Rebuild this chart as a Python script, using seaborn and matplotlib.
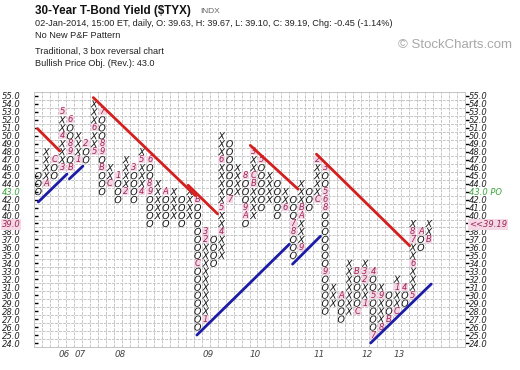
import numpy as np
import pandas as pd
import matplotlib
matplotlib.use("Agg")
import matplotlib.pyplot as plt
from matplotlib.patches import Rectangle
import seaborn as sns

# ---------------- data ----------------
col_kind = ["O", "X", "O", "X", "O", "X", "O", "X", "O", "X",
            "O", "X", "O", "X", "O", "X", "O", "X", "O", "X",
            "O", "X", "O", "X", "O", "X", "O", "X", "O", "X",
            "O", "X", "O", "X", "O", "X", "O", "X", "O", "X",
            "O", "X", "O", "X", "O", "X", "O", "X", "O", "X"]
col_low = [43, 44, 45, 46, 46, 47, 47, 48, 43, 44, 42, 43, 42, 43, 39, 40, 39, 40, 39, 40,
           26, 27, 34, 35, 42, 43, 39, 40, 41, 42, 40, 41, 35, 36, 41, 42, 28, 29, 27, 28,
           28, 29, 25, 26, 27, 28, 29, 30, 36, 37]
col_high = [45, 48, 47, 53, 52, 50, 49, 54, 53, 46, 45, 47, 46, 48, 47, 44, 43, 43, 42, 43,
            42, 38, 37, 50, 49, 46, 45, 48, 47, 45, 44, 43, 42, 44, 43, 47, 46, 31, 30, 34,
            33, 34, 33, 31, 30, 32, 31, 39, 38, 39]

month_col = [1, 2, 3, 3, 3, 4, 4, 4, 4, 5, 6, 7, 7, 8, 8, 8, 8, 9, 10, 11,
             12, 13, 13, 14, 14, 14, 16, 20, 20, 21, 21, 21, 23, 23, 23, 24, 26, 26, 26,
             27, 27, 27, 28, 31, 32, 32, 33, 33, 33, 35, 35, 36, 36, 36, 36, 36,
             38, 40, 40, 41, 41, 41, 42, 42, 42, 43, 43, 44, 45, 45, 46,
             47, 47, 47, 47, 48, 49]
month_val = [44, 47, 46, 50, 53, 52, 49, 48, 46, 47, 49, 48, 51, 53, 49, 48, 46, 44, 45, 43,
             46, 43, 47, 47, 44, 43, 43, 42, 34, 27, 37, 38, 38, 41, 47, 42, 45, 41, 40,
             44, 45, 48, 47, 41, 39, 38, 36, 40, 41, 42, 47, 46, 43, 42, 41, 33,
             30, 33, 28, 29, 32, 33, 33, 30, 25, 26, 30, 27, 28, 31, 31,
             30, 34, 37, 38, 38, 37]
month_chr = ["A", "C", "3", "4", "5", "6", "8", "9", "B", "1", "2", "5", "6", "7", "8", "9", "B", "C", "1", "2",
             "3", "4", "5", "6", "8", "9", "A", "B", "C", "1", "2", "3", "4", "5", "6", "7", "8", "9", "A",
             "B", "C", "3", "5", "6", "7", "8", "9", "A", "B", "C", "2", "3", "5", "6", "8", "9",
             "A", "B", "C", "1", "2", "3", "4", "5", "7", "8", "9", "B", "C", "1", "4",
             "5", "6", "7", "8", "A", "B"]

# trend lines (column index / price level endpoints)
red_x0 = [-0.1, 6.9, 18.8, 26.6, 34.9]
red_y0 = [50.9, 54.8, 43.8, 48.8, 47.7]
red_x1 = [2.7, 19.7, 22.5, 32.6, 46.6]
red_y1 = [48.1, 42.5, 40.2, 43.3, 36.2]
blue_x0 = [0.0, 3.9, 19.9, 31.9, 41.7]
blue_y0 = [41.7, 44.6, 25.0, 33.9, 24.0]
blue_x1 = [3.6, 5.6, 31.5, 35.4, 49.3]
blue_y1 = [45.2, 46.2, 36.4, 37.4, 31.4]

year_lbls = ["06", "07", "08", "09", "10", "11", "12", "13"]
year_cols = [3, 5, 10, 21, 27, 35, 41, 45]

price_levels = list(range(24, 56))
bullish_po = 43.0
last_close = 39.19

# ---------------- style ----------------
sns.set_theme(style="white")
plt.rcParams["font.family"] = ["DejaVu Sans"]

W, H = 520, 370
fig = plt.figure(figsize=(W / 100, H / 100), dpi=100)
fig.patch.set_facecolor("white")
L, R, T, B = 34.3, 464.7, 92.0, 347.0
ax = fig.add_axes([L / W, 1 - B / H, (R - L) / W, (B - T) / H])

RED = "#d41f1f"
BLUE = "#1c1ca6"
MAROON = "#a02657"
PINK = "#f4d8e6"
GREEN = "#3aa53a"
GRID = "#c6c6c6"

# boxes
marked = set(zip(month_col, month_val))
rows = []
for i, (k, lo, hi) in enumerate(zip(col_kind, col_low, col_high)):
    for v in range(lo, hi + 1):
        if (i, v) not in marked:
            rows.append((i, v, k))
df = pd.DataFrame(rows, columns=["col", "val", "kind"])

sns.scatterplot(data=df, x="col", y="val", style="kind",
                markers={"X": r"$\mathit{X}$", "O": r"$\mathit{O}$"},
                color="#151515", s=27, linewidth=0, legend=False, ax=ax, zorder=3)

# month markers
for c, v, ch in zip(month_col, month_val, month_chr):
    ax.add_patch(Rectangle((c - 0.44, v - 0.44), 0.88, 0.88, facecolor=PINK,
                           edgecolor="none", zorder=2))
    ax.text(c, v, ch, ha="center", va="center", fontsize=6.0, style="italic",
            color=MAROON, zorder=3)

# trend lines
for x0, y0, x1, y1 in zip(red_x0, red_y0, red_x1, red_y1):
    sns.lineplot(x=[x0, x1], y=[y0, y1], color=RED, lw=2.0, ax=ax, zorder=4)
for x0, y0, x1, y1 in zip(blue_x0, blue_y0, blue_x1, blue_y1):
    sns.lineplot(x=[x0, x1], y=[y0, y1], color=BLUE, lw=2.0, ax=ax, zorder=4)

ax.set_xlim(-0.5, 53.5)
ax.set_ylim(23.5, 55.5)
ax.set_xlabel("")
ax.set_ylabel("")

# grid
ax.set_xticks(np.arange(-0.5, 54.0, 1.0), minor=True)
ax.set_yticks(np.arange(23.5, 56.0, 1.0), minor=True)
ax.grid(False, which="major")
ax.grid(True, which="minor", color=GRID, lw=0.7, ls=(0, (3, 1.2)))
ax.set_axisbelow(True)
ax.tick_params(which="minor", length=0)
for s in ax.spines.values():
    s.set_color(GRID)
    s.set_linewidth(0.7)

# x labels (years)
ax.set_xticks([c - 0.45 for c in year_cols])
ax.set_xticklabels(year_lbls, ha="left", fontsize=6.3, style="italic", color="#444444")
ax.tick_params(axis="x", which="major", length=0, pad=2.0)

# left y labels
ax.set_yticks(price_levels)
left_lbls = [f"{v:.1f}" for v in price_levels]
ax.set_yticklabels(left_lbls, fontsize=6.0, style="italic", color="#222222")
ax.tick_params(axis="y", which="major", direction="in", length=3.2, width=1.0,
               color="black", pad=23.5, left=True)
for lbl, v in zip(ax.get_yticklabels(), price_levels):
    lbl.set_horizontalalignment("left")
    if v == bullish_po:
        lbl.set_color(GREEN)
    if v == int(last_close):
        lbl.set_color(MAROON)
        lbl.set_bbox(dict(boxstyle="square,pad=0.1", fc=PINK, ec="none"))

# right y labels
ax2 = ax.twinx()
ax2.set_ylim(23.5, 55.5)
ax2.set_yticks(price_levels)
right_lbls = []
for v in price_levels:
    if v == bullish_po:
        right_lbls.append(f"{v:.1f} PO")
    elif v == int(last_close):
        right_lbls.append(f"<<{last_close:.2f}")
    else:
        right_lbls.append(f"{v:.1f}")
ax2.set_yticklabels(right_lbls, fontsize=6.0, style="italic", color="#222222")
ax2.tick_params(axis="y", direction="out", length=2.6, width=1.0, color="black", pad=0.6)
for lbl, v in zip(ax2.get_yticklabels(), price_levels):
    if v == bullish_po:
        lbl.set_color(GREEN)
    if v == int(last_close):
        lbl.set_color(MAROON)
        lbl.set_bbox(dict(boxstyle="square,pad=0.1", fc=PINK, ec="none"))
for s in ax2.spines.values():
    s.set_color(GRID)
    s.set_linewidth(0.7)
ax2.grid(False)

# header text
HF = ["Liberation Sans", "DejaVu Sans"]
def ftxt(x, y, s, **kw):
    fig.text(x / W, 1 - y / H, s, va="center", ha="left", family=HF, **kw)

ftxt(35, 11, "30-Year T-Bond Yield ($TYX)", fontsize=8.4, weight="bold", color="#111111")
ftxt(200, 11.5, "INDX", fontsize=6.0, color="#666666")
ftxt(35, 23, "02-Jan-2014, 15:00 ET, daily, O: 39.63, H: 39.67, L: 39.10, C: 39.19, Chg: -0.45 (-1.14%)",
     fontsize=6.6, color="#222222")
ftxt(35, 35, "No New P&F Pattern", fontsize=6.6, color="#222222")
ftxt(35, 51, "Traditional, 3 box reversal chart", fontsize=6.6, color="#222222")
ftxt(35, 63, "Bullish Price Obj. (Rev.): 43.0", fontsize=6.6, color="#222222")
fig.text(455 / W, 1 - 45 / H, "\u00a9 StockCharts.com", ha="center", va="center",
         family=HF, fontsize=9.5, color="#a8a8a8")

fig.savefig("out.png", dpi=100, facecolor="white")
